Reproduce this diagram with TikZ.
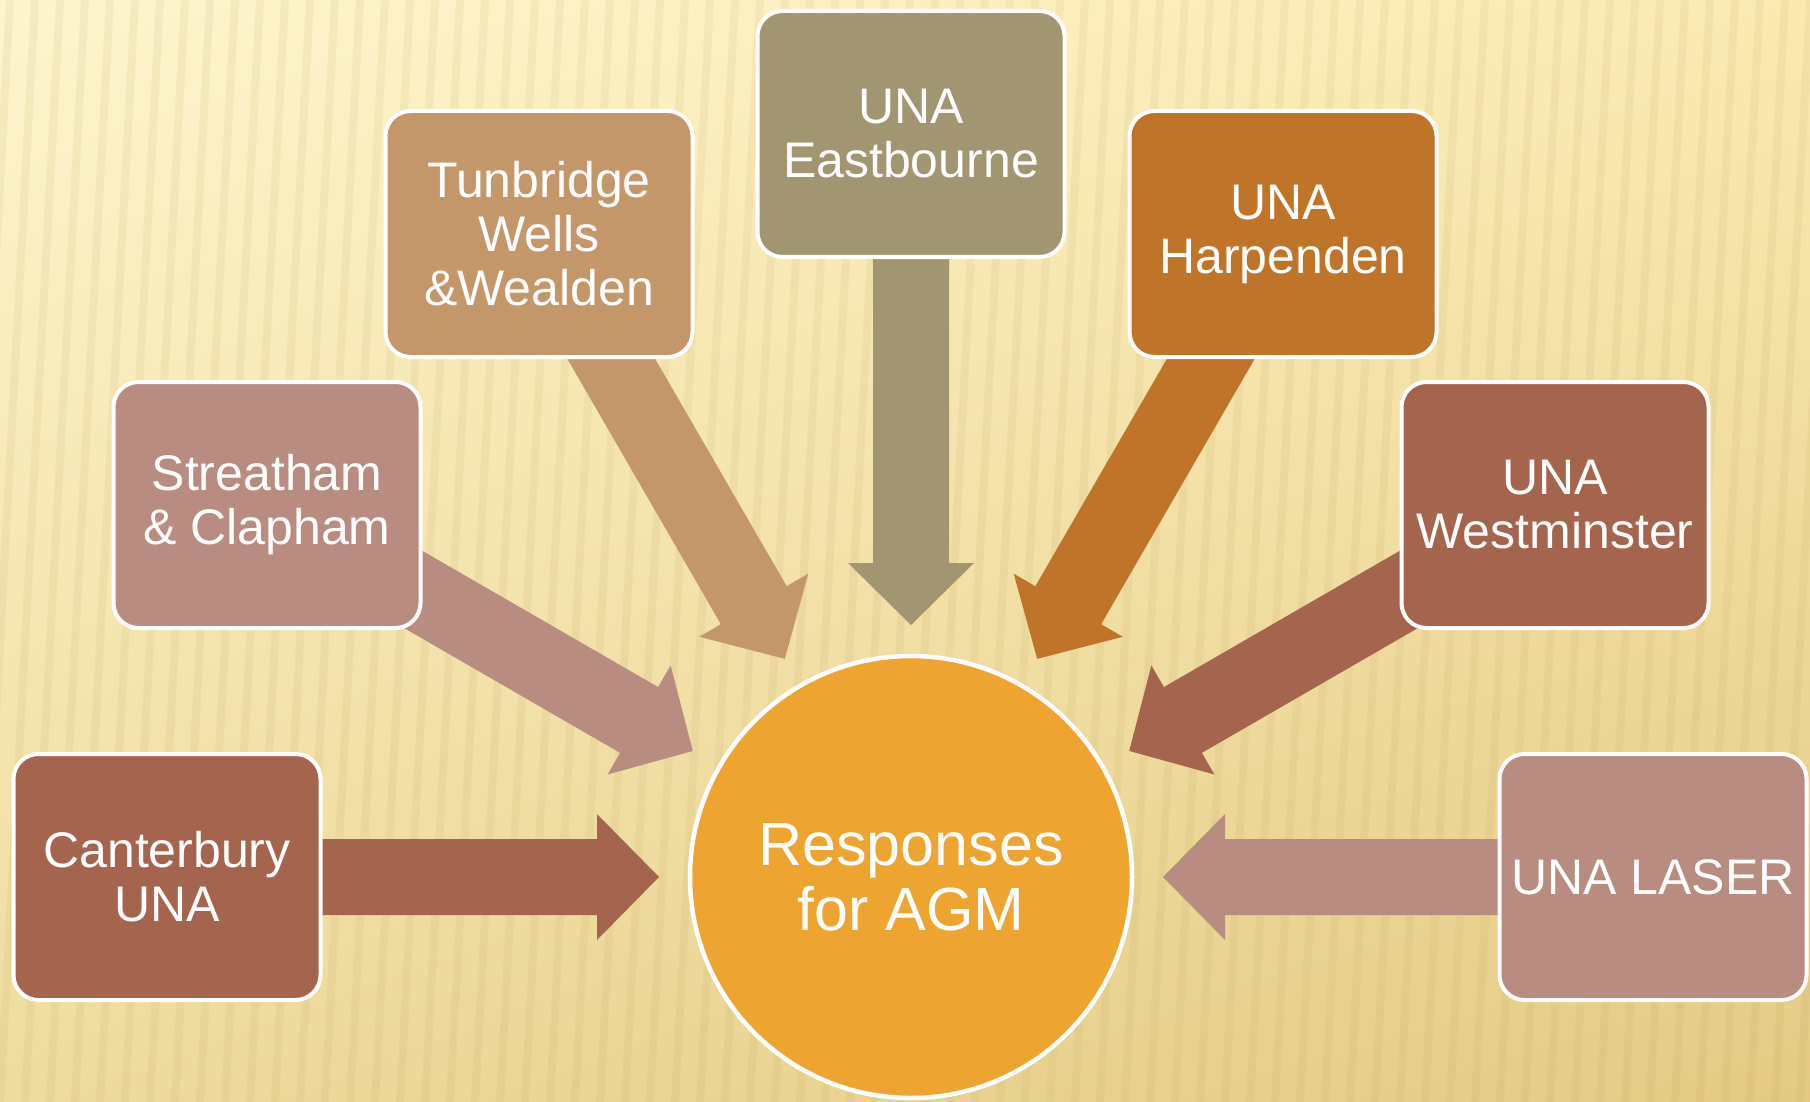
\documentclass[tikz,border=0pt]{standalone}
\usepackage{fontspec}
\setmainfont{Liberation Sans}
\usetikzlibrary{calc,backgrounds,shadings}
\definecolor{cBrick}{HTML}{A5644E}
\definecolor{cRose}{HTML}{B88C80}
\definecolor{cTan}{HTML}{C4976B}
\definecolor{cOlive}{HTML}{A29572}
\definecolor{cOchre}{HTML}{C0742A}
\definecolor{cHub}{HTML}{EEA430}
\definecolor{cStripe}{HTML}{B89A50}
\definecolor{bgUL}{HTML}{FEF5CE}
\definecolor{bgUR}{HTML}{FAEAB2}
\definecolor{bgLL}{HTML}{EEDB9E}
\definecolor{bgLR}{HTML}{E4CA84}
\newcommand\blockarrow[3]{%
  \coordinate (h#2) at ($(#1.center)!314pt!(#2.center)$);
  \fill[#3] ($(#1.center)!252pt!(#2.center)$)
    -- ($(h#2)!63pt!90:(#2.center)$)
    -- ($(h#2)!38pt!90:(#2.center)$)
    -- ($(#2.center)!38pt!-90:(#1.center)$)
    -- ($(#2.center)!38pt!90:(#1.center)$)
    -- ($(h#2)!38pt!-90:(#2.center)$)
    -- ($(h#2)!63pt!-90:(#2.center)$)
    -- cycle;}
\begin{document}
\begin{tikzpicture}[x=1pt,y=-1pt,
  box/.style={draw=white, line width=4pt, rounded corners=25pt,
    minimum width=307pt, minimum height=246pt, text=white, align=center,
    font=\fontsize{50}{54}\selectfont, inner sep=0pt},
  hub/.style={circle, draw=white, line width=4.5pt, fill=cHub,
    minimum size=442pt, text=white, align=center,
    font=\fontsize{61}{65}\selectfont, inner sep=0pt}]
\useasboundingbox (0,0) rectangle (1810,1102);
\node[hub] (hub) at (911,877) {Responses\\for AGM};
\node[box, fill=cBrick] (cant) at (167,877) {Canterbury\\UNA};
\node[box, fill=cRose] (strh) at (267,505) {Streatham\\\& Clapham};
\node[box, fill=cTan] (tunb) at (539,234) {Tunbridge\\Wells\\\&Wealden};
\node[box, fill=cOlive] (east) at (911,134) {UNA\\Eastbourne};
\node[box, fill=cOchre] (harp) at (1283,234) {UNA\\Harpenden};
\node[box, fill=cBrick] (west) at (1555,505) {UNA\\Westminster};
\node[box, fill=cRose] (laser) at (1653,877) {UNA LASER};
\begin{scope}[on background layer]
  \shade[upper left=bgUL, upper right=bgUR, lower left=bgLL, lower right=bgLR]
    (0,0) rectangle (1810,1102);
  \begin{scope}
    \clip (0,0) rectangle (1810,1102);
    \foreach \i in {0,...,76}
      \draw[line width=8pt, draw=cStripe, opacity=.10]
        (\i*25-50,1102) -- (\i*25+10,0);
  \end{scope}
  \blockarrow{hub}{cant}{cBrick}
  \blockarrow{hub}{strh}{cRose}
  \blockarrow{hub}{tunb}{cTan}
  \blockarrow{hub}{east}{cOlive}
  \blockarrow{hub}{harp}{cOchre}
  \blockarrow{hub}{west}{cBrick}
  \blockarrow{hub}{laser}{cRose}
\end{scope}
\end{tikzpicture}
\end{document}
